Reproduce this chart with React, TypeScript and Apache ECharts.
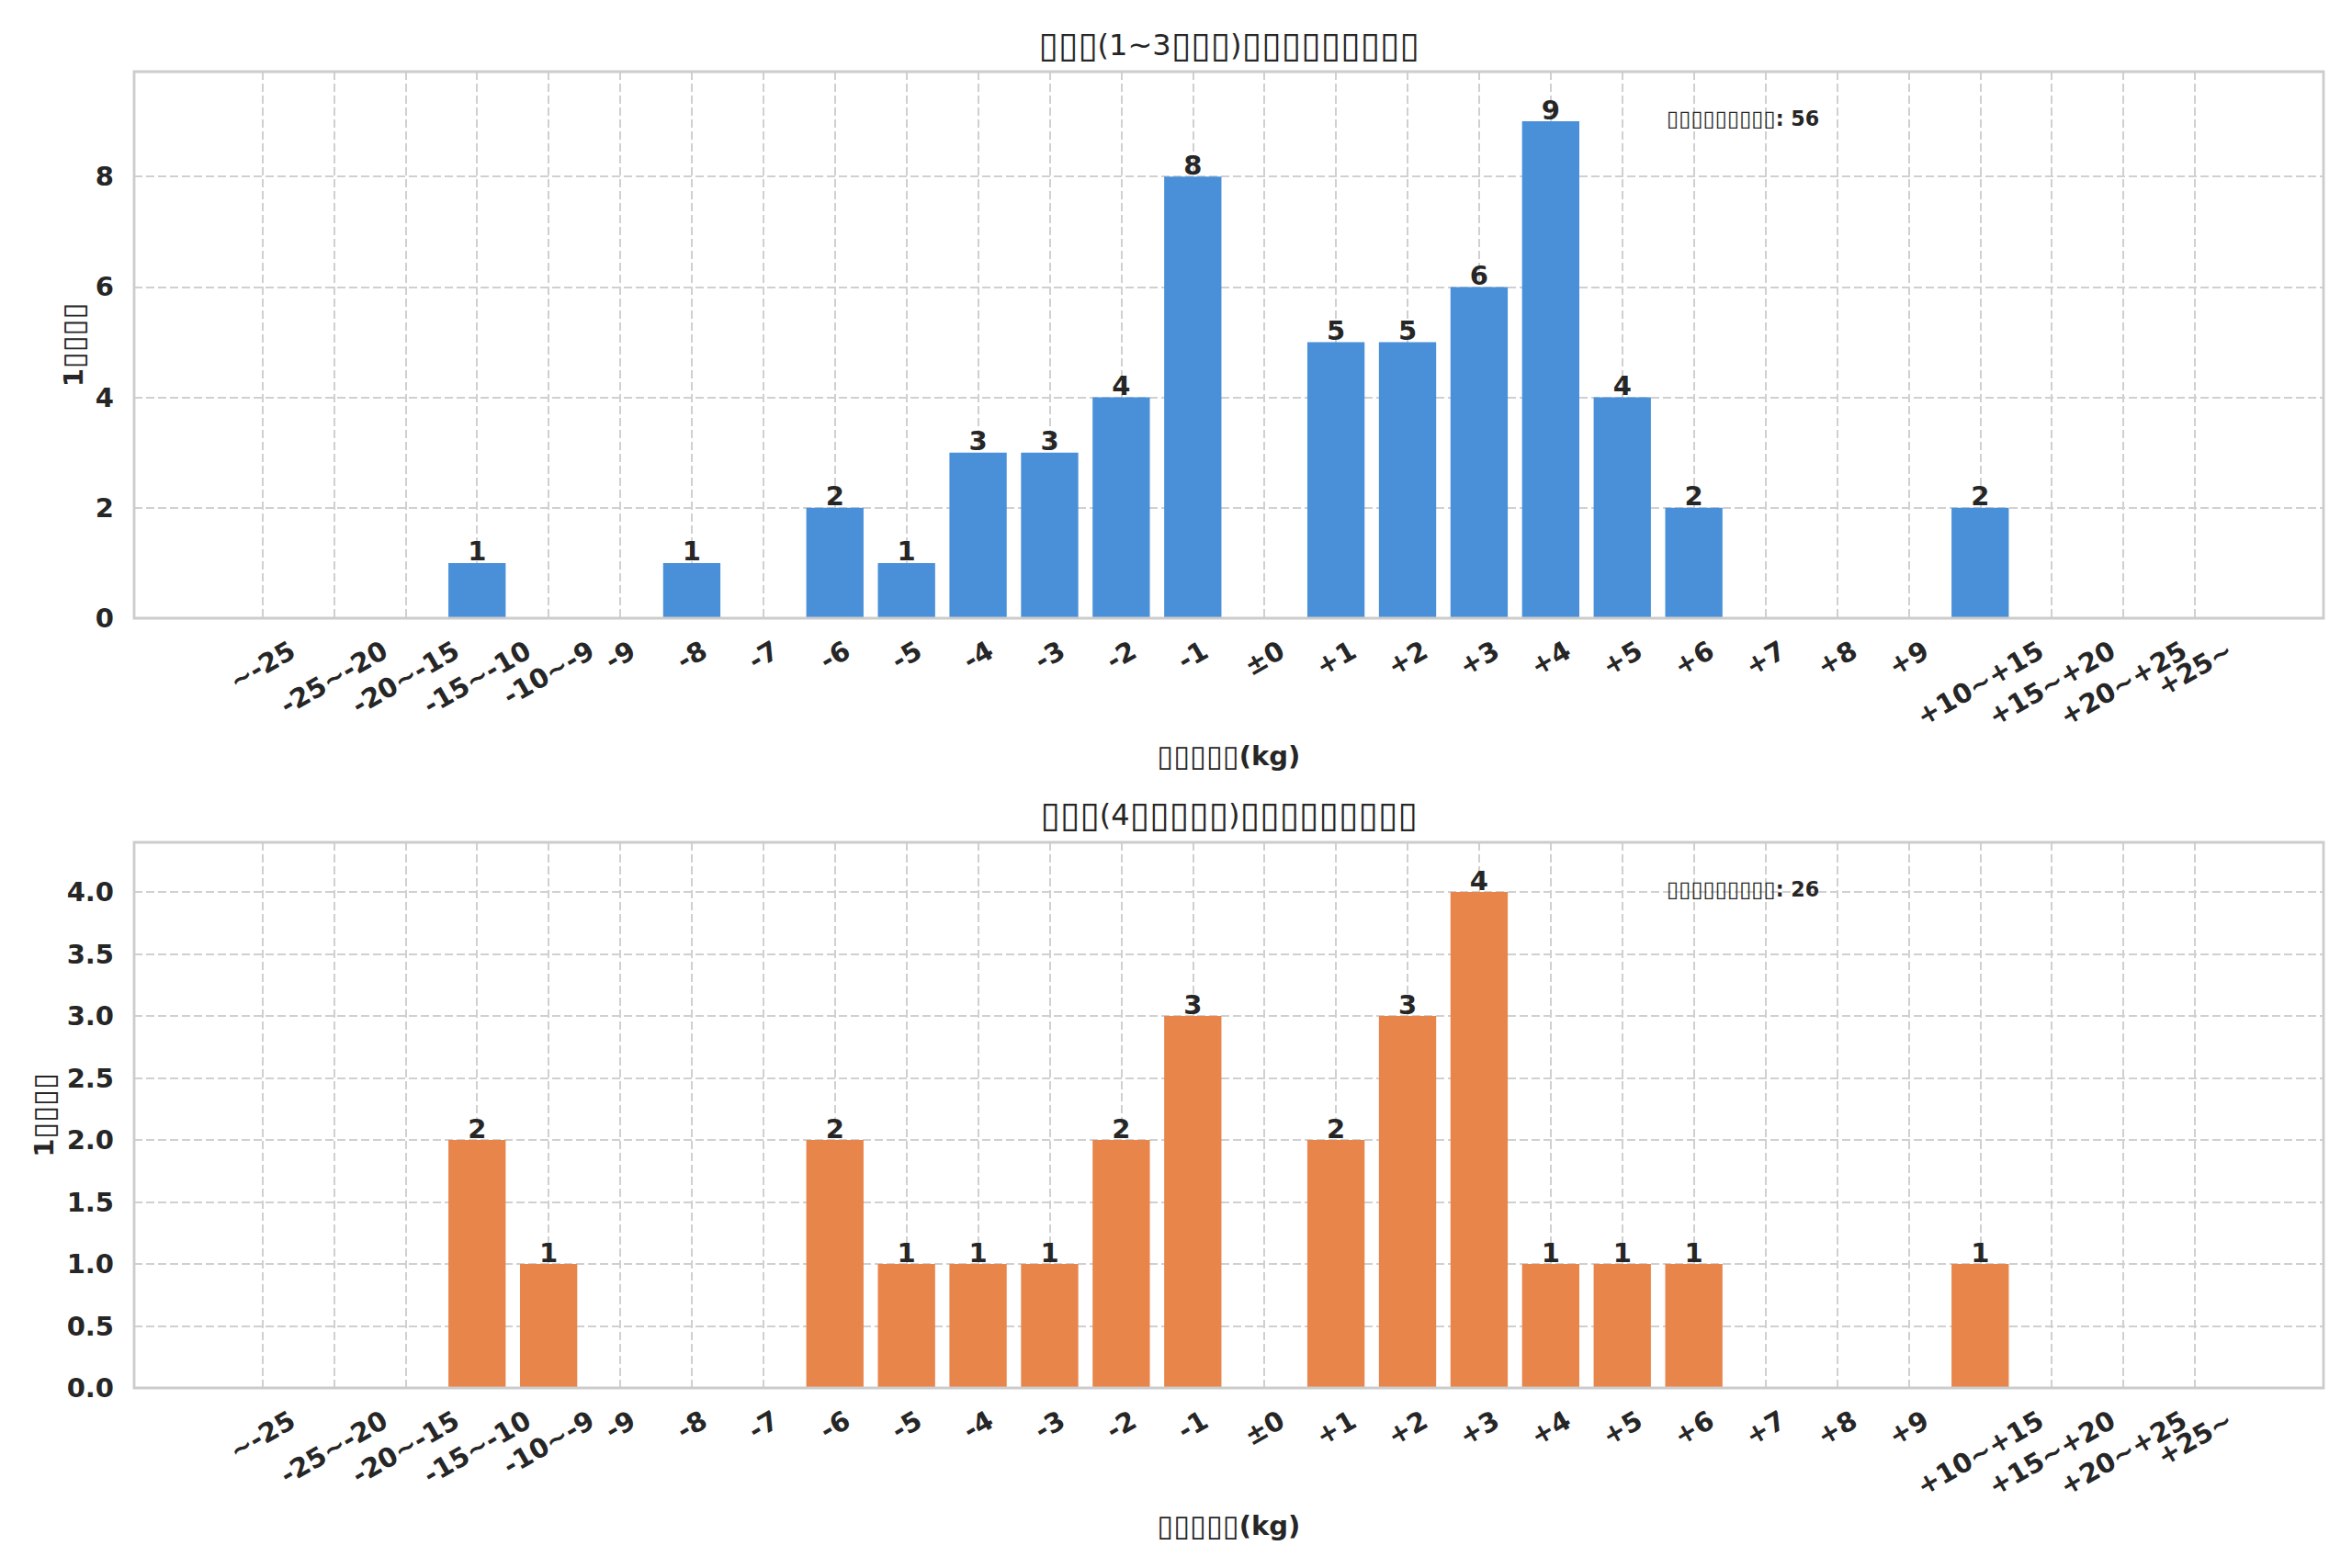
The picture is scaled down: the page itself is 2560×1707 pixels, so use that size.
import React, { useEffect, useRef } from 'react';
import * as echarts from 'echarts';

// ---- data ----
const categories = [
  '~-25', '-25~-20', '-20~-15', '-15~-10', '-10~-9', '-9', '-8', '-7', '-6', '-5', '-4', '-3', '-2', '-1', '±0',
  '+1', '+2', '+3', '+4', '+5', '+6', '+7', '+8', '+9', '+10~+15', '+15~+20', '+20~+25', '+25~',
];
const shortTermCounts = [0, 0, 0, 1, 0, 0, 1, 0, 2, 1, 3, 3, 4, 8, 0, 5, 5, 6, 9, 4, 2, 0, 0, 0, 2, 0, 0, 0];
const longTermCounts = [0, 0, 0, 2, 1, 0, 0, 0, 2, 1, 1, 1, 2, 3, 0, 2, 3, 4, 1, 1, 1, 0, 0, 0, 1, 0, 0, 0];
const titles = ['▯▯▯(1~3▯▯▯)▯▯▯▯▯▯▯▯▯', '▯▯▯(4▯▯▯▯▯)▯▯▯▯▯▯▯▯▯'];
const xAxisName = '▯▯▯▯▯(kg)';
const yAxisName = '1▯▯▯▯';
const totalLabel = '▯▯▯▯▯▯▯▯▯';
const yTickIntervals = [2, 0.5];
const yTickDecimals = [0, 1];

// ---- style ----
const FONT = '"DejaVu Sans", "Noto Sans", sans-serif';
const FS = 29;
const TITLE_FS = 32;
const ANN_FS = 22.2;
const TITLE_BOX_SCALE = 1.22;
const LABEL_BOX_SCALE = 1.12;
const TEXT = '#262626';
const GRID_LINE = '#d0d0d0';
const FRAME = '#cccccc';
const COLORS = ['#4a90d9', '#e8854b'];

const FRAME_LEFT = 146;
const FRAME_WIDTH = 2383;
const INSET_LEFT = 285.5;
const INSET_WIDTH = 2103.5;
const LABEL_MARGIN = 8;
const LABEL_TOP_GAP = 20;
const PANELS = [
  { top: 78, height: 595, titleCenter: 49, annY: 129, yNameGap: 50 },
  { top: 917, height: 594, titleCenter: 887, annY: 968, yNameGap: 82 },
];

// wrap runs of placeholder boxes into a rich token so they get the wider box look
function richBoxes(s: string): string {
  return s.replace(/(▯+)/g, '{b|$1}');
}

function measure(t: string): number {
  const ctx = document.createElement('canvas').getContext('2d');
  if (!ctx) return t.length * FS * 0.6;
  ctx.font = `bold ${FS}px ${FONT}`;
  return ctx.measureText(t).width;
}

function buildOption() {
  const rot = Math.PI / 6;
  // rotated labels: centre each label's bounding box on its tick, with the box tops aligned
  const catData = categories.map((c) => {
    const w = measure(c);
    const h = FS;
    const H = w * Math.sin(rot) + h * Math.cos(rot);
    const E = LABEL_TOP_GAP - LABEL_MARGIN + H / 2;
    const pt = Math.max(0, E * Math.cos(rot) - h / 2);
    const pr = E;
    return {
      value: c,
      textStyle: { align: 'center', verticalAlign: 'top', padding: [pt, pr, 0, 0] },
    };
  });
  const seriesData = [shortTermCounts, longTermCounts];
  const boldRich = {
    b: { fontFamily: FONT, fontWeight: 'bold', fontSize: FS * LABEL_BOX_SCALE, color: TEXT },
  };

  const grid: any[] = [];
  const xAxis: any[] = [];
  const yAxis: any[] = [];
  const series: any[] = [];
  const title: any[] = [];
  const graphic: any[] = [];

  PANELS.forEach((p, i) => {
    const data = seriesData[i];
    const ymax = Math.max(...data) * 1.1;
    const total = data.reduce((a, b) => a + b, 0);
    grid.push({
      left: FRAME_LEFT, top: p.top, width: FRAME_WIDTH, height: p.height,
      show: true, borderColor: FRAME, borderWidth: 2.8, backgroundColor: 'transparent', z: 3,
    });
    grid.push({ left: INSET_LEFT, top: p.top, width: INSET_WIDTH, height: p.height });
    const fg = i * 2;
    const ig = i * 2 + 1;
    xAxis.push({ gridIndex: fg, type: 'value', show: false, min: 0, max: 1 });
    xAxis.push({
      gridIndex: ig,
      type: 'category',
      data: catData,
      boundaryGap: false,
      axisLine: { show: false },
      axisTick: { show: false },
      axisLabel: {
        interval: 0, rotate: 30, align: 'center', verticalAlign: 'top', margin: LABEL_MARGIN,
        fontFamily: FONT, fontWeight: 'bold', fontSize: FS, color: TEXT,
      },
      splitLine: { show: true, lineStyle: { type: [9, 4], color: GRID_LINE, width: 2 } },
      name: richBoxes(xAxisName),
      nameLocation: 'middle',
      nameGap: 134,
      nameMoveOverlap: false,
      nameTextStyle: { fontFamily: FONT, fontWeight: 'bold', fontSize: FS, color: TEXT, rich: boldRich },
    });
    yAxis.push({
      gridIndex: fg,
      type: 'value',
      min: 0,
      max: ymax,
      interval: yTickIntervals[i],
      axisLine: { show: false },
      axisTick: { show: false },
      axisLabel: {
        margin: 22, showMaxLabel: false,
        fontFamily: FONT, fontWeight: 'bold', fontSize: FS, color: TEXT,
        formatter: (v: number) => v.toFixed(yTickDecimals[i]),
      },
      splitLine: { show: true, lineStyle: { type: [9, 4], color: GRID_LINE, width: 2 } },
      name: richBoxes(yAxisName),
      nameLocation: 'middle',
      nameGap: p.yNameGap,
      nameMoveOverlap: false,
      nameTextStyle: { fontFamily: FONT, fontWeight: 'bold', fontSize: FS, color: TEXT, rich: boldRich },
    });
    yAxis.push({ gridIndex: ig, type: 'value', min: 0, max: ymax, show: false });
    series.push({
      type: 'bar',
      xAxisIndex: ig,
      yAxisIndex: ig,
      data,
      barWidth: '80%',
      itemStyle: { color: COLORS[i] },
      label: {
        show: true, position: 'top', distance: -2,
        fontFamily: FONT, fontWeight: 'bold', fontSize: FS, color: TEXT,
        formatter: (q: any) => (q.value > 0 ? String(q.value) : ''),
      },
    });
    title.push({
      text: richBoxes(titles[i]),
      left: FRAME_LEFT + FRAME_WIDTH / 2,
      top: p.titleCenter - (TITLE_FS * TITLE_BOX_SCALE) / 2,
      textAlign: 'center',
      padding: 0,
      textStyle: {
        fontFamily: FONT, fontWeight: 'normal', fontSize: TITLE_FS, color: TEXT,
        rich: { b: { fontFamily: FONT, fontWeight: 'normal', fontSize: TITLE_FS * TITLE_BOX_SCALE, color: TEXT } },
      },
    });
    graphic.push({
      type: 'text',
      x: 1814,
      y: p.annY,
      z: 10,
      style: {
        text: `${richBoxes(totalLabel)}: ${total}`,
        font: `bold ${ANN_FS}px ${FONT}`,
        fill: TEXT,
        verticalAlign: 'middle',
        align: 'left',
        rich: { b: { font: `bold ${ANN_FS * 1.08}px ${FONT}`, fill: TEXT } },
      },
    });
  });

  return {
    animation: false,
    backgroundColor: '#ffffff',
    textStyle: { fontFamily: FONT },
    title,
    grid,
    xAxis,
    yAxis,
    series,
    graphic,
  };
}

export default function App() {
  const ref = useRef<HTMLDivElement>(null);
  useEffect(() => {
    if (!ref.current) return;
    const chart = echarts.init(ref.current, undefined, { renderer: 'svg' });
    chart.setOption(buildOption() as any);
    return () => chart.dispose();
  }, []);
  return (
    <div
      ref={ref}
      style={{ position: 'absolute', left: 0, top: 0, width: 2560, height: 1707, background: '#ffffff' }}
    />
  );
}
